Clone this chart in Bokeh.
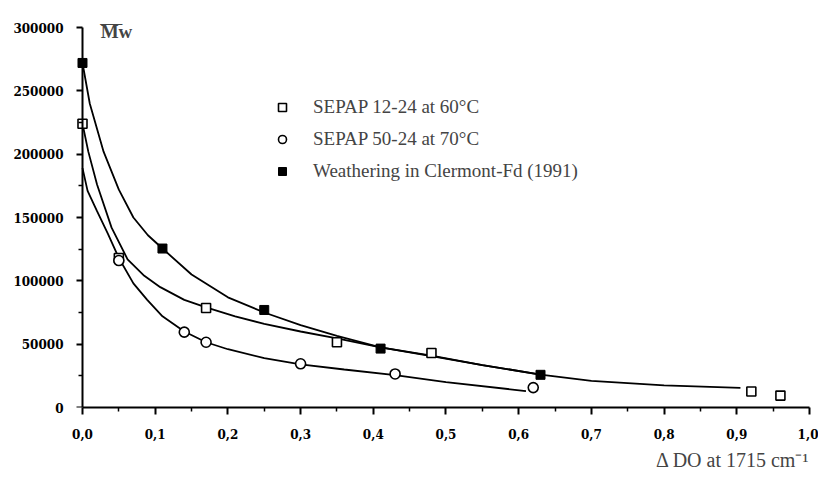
from bokeh.plotting import figure
from bokeh.models import (Range1d, FixedTicker, CustomJSTickFormatter, Legend,
                          LegendItem, Label, LinearAxis, Title)
from bokeh.embed import file_html
from bokeh.resources import INLINE

# ---- data ----
sq_x = [0.0, 0.05, 0.17, 0.35, 0.48, 0.92, 0.96]
sq_y = [224000, 118000, 78500, 51500, 43000, 12600, 9400]
ci_x = [0.05, 0.14, 0.17, 0.30, 0.43, 0.62]
ci_y = [116000, 59500, 51500, 34500, 26500, 15700]
wf_x = [0.0, 0.11, 0.25, 0.41, 0.63]
wf_y = [272000, 125500, 77000, 46500, 25800]

# fitted curves
sq_fit_x = [0.0, 0.008, 0.02, 0.04, 0.062, 0.085, 0.107, 0.14, 0.17, 0.21, 0.25, 0.30,
            0.35, 0.41, 0.48, 0.55, 0.63, 0.70, 0.80, 0.905]
sq_fit_y = [224000, 202000, 176000, 142000, 117000, 104000, 95000, 85000, 79000, 72000,
            66000, 60000, 54500, 47500, 41000, 33500, 26000, 21000, 17500, 15500]
ci_fit_x = [0.0, 0.007, 0.02, 0.035, 0.05, 0.07, 0.089, 0.11, 0.14, 0.17, 0.20, 0.25,
            0.30, 0.36, 0.43, 0.50, 0.61]
ci_fit_y = [189000, 171000, 155000, 137000, 118000, 98000, 85000, 72000, 60000, 51500,
            46000, 39000, 34000, 30000, 25500, 20000, 13000]
wf_fit_x = [0.0, 0.01, 0.029, 0.05, 0.07, 0.09, 0.11, 0.15, 0.20, 0.25, 0.30, 0.35,
            0.41, 0.48, 0.55, 0.63]
wf_fit_y = [272000, 240000, 202000, 172000, 150000, 136000, 125500, 105000, 87000,
            75000, 65000, 56500, 47500, 40500, 33500, 26000]

x_major = [0.0, 0.1, 0.2, 0.3, 0.4, 0.5, 0.6, 0.7, 0.8, 0.9, 1.0]
x_minor = [0.05, 0.15, 0.25, 0.35, 0.45, 0.55, 0.65, 0.75, 0.85, 0.95]
y_major = [0, 50000, 100000, 150000, 200000, 250000, 300000]
y_minor = [25000, 75000, 125000, 175000, 225000, 275000]

labels = ["SEPAP 12-24 at 60°C", "SEPAP 50-24 at 70°C", "Weathering in Clermont-Fd (1991)"]

SERIF = "Liberation Serif"
TICKF = "DejaVu Serif"

p = figure(width=818, height=475, x_range=Range1d(-0.011, 1.0),
           y_range=Range1d(0, 315000), output_backend="svg", toolbar_location=None,
           min_border_left=74, min_border_right=9, min_border_top=8,
           min_border_bottom=67)
p.outline_line_color = None
p.xgrid.grid_line_color = None
p.ygrid.grid_line_color = None
p.background_fill_color = "white"
p.border_fill_color = "white"

# curves
for fx, fy in [(sq_fit_x, sq_fit_y), (ci_fit_x, ci_fit_y), (wf_fit_x, wf_fit_y)]:
    p.line(fx, fy, line_color="black", line_width=1.8)

r_sq = p.scatter(sq_x, sq_y, marker="square", size=9, fill_color="white",
                 line_color="black", line_width=1.6)
r_ci = p.scatter(ci_x, ci_y, marker="circle", size=10, fill_color="white",
                 line_color="black", line_width=1.6)
r_wf = p.scatter(wf_x, wf_y, marker="square", size=9, fill_color="black",
                 line_color="black", line_width=1)

# x axis
xa = p.xaxis[0]
xa.ticker = FixedTicker(ticks=x_major, minor_ticks=x_minor)
xa.formatter = CustomJSTickFormatter(code="return tick.toFixed(1).replace('.', ',');")
xa.bounds = (0, 1.0)
xa.axis_line_width = 2
xa.major_tick_line_width = 2
xa.minor_tick_line_width = 1.5
xa.major_tick_in = 0
xa.minor_tick_in = 0
xa.major_tick_out = 7
xa.minor_tick_out = 4
xa.major_label_standoff = 14

# y axis: labels only (at frame edge)
ya = p.yaxis[0]
ya.ticker = FixedTicker(ticks=y_major)
ya.formatter = CustomJSTickFormatter(code="return tick.toFixed(0);")
ya.axis_line_color = None
ya.major_tick_line_color = None
ya.minor_tick_line_color = None
ya.major_tick_in = 0
ya.major_tick_out = 0
ya.minor_tick_in = 0
ya.minor_tick_out = 0
ya.major_label_standoff = 11

for ax in (xa, ya):
    ax.major_label_text_font = TICKF
    ax.major_label_text_font_style = "bold"
    ax.major_label_text_font_size = "12px"
    ax.major_label_text_color = "black"

# y axis line and ticks at x = 0
yb = LinearAxis(fixed_location=0, ticker=FixedTicker(ticks=y_major, minor_ticks=y_minor),
                formatter=CustomJSTickFormatter(code="return '';"),
                bounds=(0, 300000), axis_line_width=2, major_tick_line_width=2,
                minor_tick_line_width=1.5, major_tick_in=0, minor_tick_in=0,
                major_tick_out=6, minor_tick_out=4, major_label_standoff=0,
                major_label_text_font_size="1px")
p.add_layout(yb, "left")

# legend
legend = Legend(items=[LegendItem(label=labels[0], renderers=[r_sq]),
                       LegendItem(label=labels[1], renderers=[r_ci]),
                       LegendItem(label=labels[2], renderers=[r_wf])],
                location=(198, 225), padding=0, margin=0, spacing=10,
                glyph_width=20, glyph_height=20, label_height=20,
                label_standoff=21, label_text_font=SERIF,
                label_text_font_size="19px", border_line_color=None,
                background_fill_alpha=0)
p.add_layout(legend, "center")

# y title with overline
p.add_layout(Label(x=0.025, y=296500, text="Mw", text_font=SERIF,
                   text_font_style="bold", text_font_size="19px",
                   text_baseline="middle", text_align="left"))
p.add_layout(Label(x=0.0245, y=304000, text="\u2014", text_font=SERIF,
                   text_font_size="22px", text_baseline="middle", text_align="left"))

# x title at the lower right
p.add_layout(Title(text="\u0394 DO at 1715 cm\u207b\u00b9", align="right",
                   text_font=SERIF, text_font_size="20px", text_font_style="normal",
                   standoff=10), "below")

open("out.html", "w").write(file_html(p, INLINE))
